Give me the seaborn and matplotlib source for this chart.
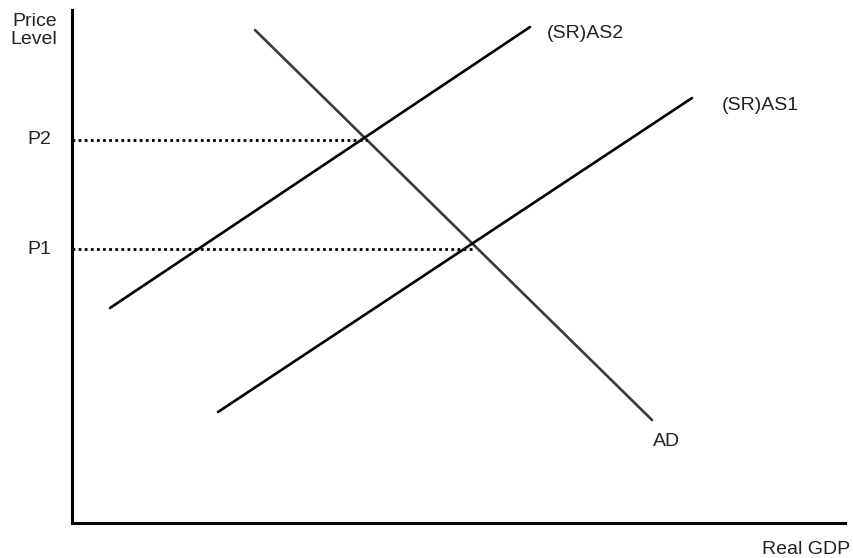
import matplotlib
matplotlib.use("Agg")
import matplotlib.pyplot as plt
import seaborn as sns
import pandas as pd

sns.set_style("white")
plt.rcParams['font.family'] = ['Liberation Sans', 'DejaVu Sans']

# Curve endpoints (abstract units: x = real GDP, y = price level)
ad_x = [183, 580]
ad_y = [493, 103]
as2_x = [38, 458]
as2_y = [215, 496]
as1_x = [146, 620]
as1_y = [111, 425]
price_levels = [383, 274]          # P2, P1
price_labels = ["P2", "P1"]
eq_x = [295, 401]                  # equilibrium GDP for P2, P1

W, H = 854, 558
FS = 14
fig = plt.figure(figsize=(W / 100, H / 100), dpi=100)
ax = fig.add_axes([72 / W, (H - 523) / H, (845 - 72) / W, (523 - 10) / H])

df = pd.concat([
    pd.DataFrame({"x": ad_x, "y": ad_y, "curve": "AD"}),
    pd.DataFrame({"x": as2_x, "y": as2_y, "curve": "AS2"}),
    pd.DataFrame({"x": as1_x, "y": as1_y, "curve": "AS1"}),
])
sns.lineplot(data=df, x="x", y="y", hue="curve",
             palette={"AD": "#3a3a3a", "AS2": "black", "AS1": "black"},
             linewidth=1.9, estimator=None, sort=False, legend=False, ax=ax)

for p, ex, lab in zip(price_levels, eq_x, price_labels):
    ax.plot([0, ex], [p, p], color="black", linestyle=(0, (1, 1.2)), linewidth=2.0)
    ax.text(-32.5, p, lab, ha="center", va="center", fontsize=FS, color="#222")

ax.set_xlim(0, 773)
ax.set_ylim(0, 513)
ax.set_xticks([])
ax.set_yticks([])
ax.set_xlabel("")
ax.set_ylabel("")
for s in ["top", "right"]:
    ax.spines[s].set_visible(False)
for s in ["left", "bottom"]:
    ax.spines[s].set_color("black")
    ax.spines[s].set_linewidth(2.2)

ax.text(-37.5, 502, "Price", ha="center", va="center", fontsize=FS, color="#222")
ax.text(-38.5, 483, "Level", ha="center", va="center", fontsize=FS, color="#222")
ax.text(475, 490, "(SR)AS2", ha="left", va="center", fontsize=FS, color="#222")
ax.text(650, 418, "(SR)AS1", ha="left", va="center", fontsize=FS, color="#222")
ax.text(581, 81, "AD", ha="left", va="center", fontsize=FS, color="#222")
ax.text(778, -26, "Real GDP", ha="right", va="center", fontsize=FS, color="#222")

fig.savefig("out.png", dpi=100)
